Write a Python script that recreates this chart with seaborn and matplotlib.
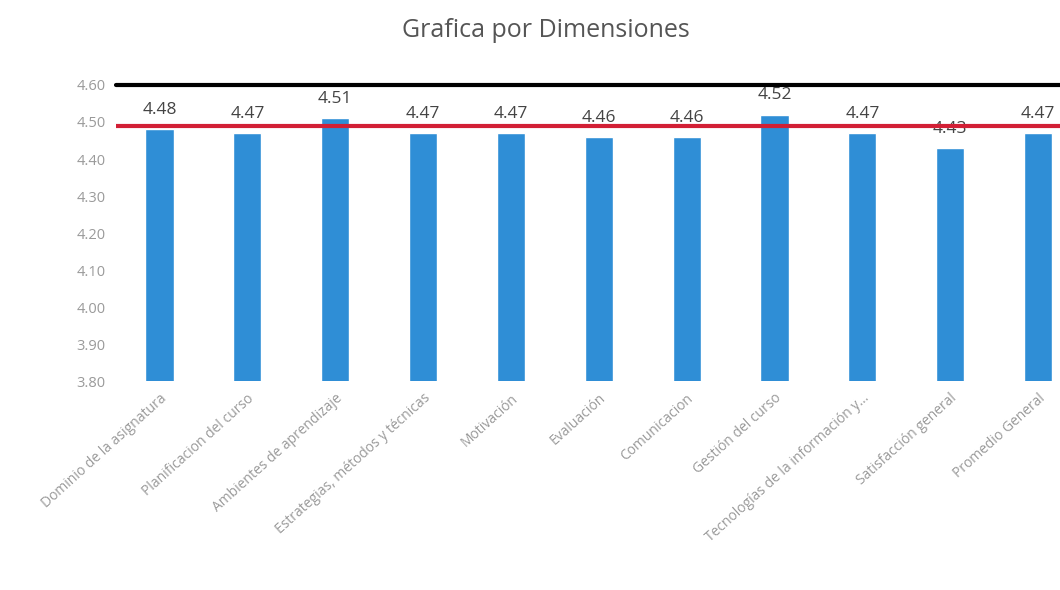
import pandas as pd
import matplotlib
matplotlib.use("Agg")
import matplotlib.pyplot as plt
import seaborn as sns

# Data
dimensiones = ["Dominio de la asignatura", "Planificacion del curso", "Ambientes de aprendizaje",
               "Estrategias, métodos y técnicas", "Motivación", "Evaluación", "Comunicacion",
               "Gestión del curso", "Tecnologías de la información y...", "Satisfacción general",
               "Promedio General"]
valores = [4.48, 4.47, 4.51, 4.47, 4.47, 4.46, 4.46, 4.52, 4.47, 4.43, 4.47]
linea_roja = 4.49
linea_negra = 4.60

df = pd.DataFrame({"dimension": dimensiones, "valor": valores})

sns.set_style("white")
plt.rcParams["font.family"] = ["Open Sans", "DejaVu Sans"]

fig = plt.figure(figsize=(10.6, 5.9), dpi=100)
ax = fig.add_axes([0.109, 0.354, 0.891, 0.502])

sns.barplot(data=df, x="dimension", y="valor", color="#2F8ED6", width=0.32, ax=ax,
            saturation=1)

# value labels above bars
ax.bar_label(ax.containers[0], labels=[f"{v:.2f}" for v in valores], padding=8,
             fontsize=12.5, color="#444444")

ax.axhline(linea_negra, color="black", lw=3, zorder=5, clip_on=False)
ax.axhline(linea_roja, color="#D21F35", lw=3, zorder=5)

ax.set_ylim(3.8, 4.6)
ax.set_xlim(-0.5, 10.25)
ax.set_yticks([3.8, 3.9, 4.0, 4.1, 4.2, 4.3, 4.4, 4.5, 4.6])
ax.set_yticklabels([f"{t:.2f}" for t in ax.get_yticks()], color="#9A9A9A", fontsize=10.5)
ax.set_xticks(range(len(dimensiones)))
ax.set_xticklabels(dimensiones, rotation=42, ha="right", rotation_mode="anchor",
                   color="#9A9A9A", fontsize=10)
ax.tick_params(axis="both", length=0, pad=7)
ax.set_xlabel("")
ax.set_ylabel("")
sns.despine(ax=ax, left=True, bottom=True, top=True, right=True)

fig.suptitle("Grafica por Dimensiones", x=0.515, y=0.97, fontsize=18, color="#555555")

fig.savefig("out.png", dpi=100)
